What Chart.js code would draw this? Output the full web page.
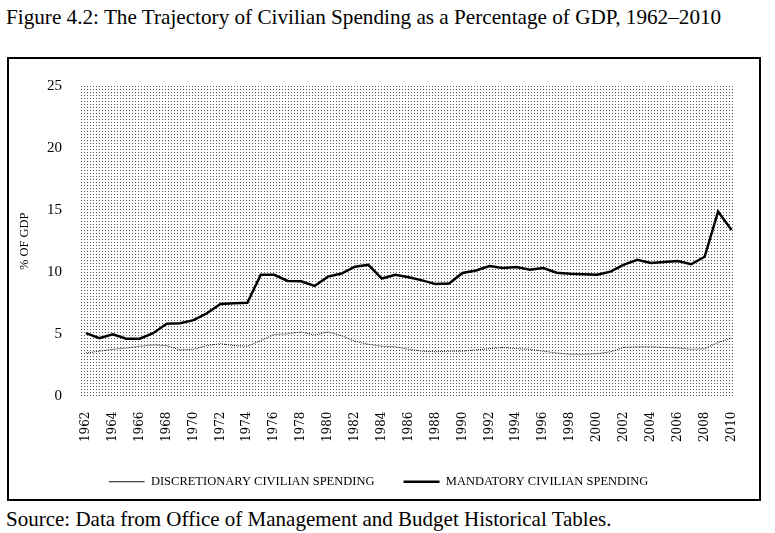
<!DOCTYPE html>
<html>
<head>
<meta charset="utf-8">
<script src="https://cdn.jsdelivr.net/npm/chart.js@4"></script>
<style>
  body { margin: 0; background: #fff; width: 775px; height: 533px; position: relative; overflow: hidden; }
  #titulo { position: absolute; left: 6px; top: 5px; font-family: "Liberation Serif", serif; font-size: 21.2px; color: #000; white-space: nowrap; }
  #marco { position: absolute; left: 7px; top: 57px; width: 754px; height: 444px; border: 2px solid #000; box-sizing: border-box; }
  #fuente { position: absolute; left: 6px; top: 507px; font-family: "Liberation Serif", serif; font-size: 21px; color: #000; white-space: nowrap; }
  #caja { position: absolute; left: 9px; top: 59px; width: 752px; height: 442px; }
</style>
</head>
<body>
<div id="titulo">Figure 4.2: The Trajectory of Civilian Spending as a Percentage of GDP, 1962–2010</div>
<div id="marco"></div>
<div id="caja"><canvas id="grafico"></canvas></div>
<div id="fuente">Source: Data from Office of Management and Budget Historical Tables.</div>
<script>
// DATOS
const anios = [1962, 1963, 1964, 1965, 1966, 1967, 1968, 1969, 1970, 1971, 1972, 1973, 1974, 1975, 1976, 1977,
  1978, 1979, 1980, 1981, 1982, 1983, 1984, 1985, 1986, 1987, 1988, 1989, 1990, 1991, 1992, 1993,
  1994, 1995, 1996, 1997, 1998, 1999, 2000, 2001, 2002, 2003, 2004, 2005, 2006, 2007, 2008, 2009, 2010];

const discrecional = [3.5, 3.65, 3.8, 3.9, 4.05, 4.15, 4.1, 3.75, 3.8, 4.1, 4.25, 4.1, 4.05, 4.5, 5.0, 5.05,
  5.2, 4.95, 5.2, 4.9, 4.45, 4.2, 4.05, 4.0, 3.8, 3.65, 3.6, 3.65, 3.65, 3.75, 3.85, 3.95,
  3.85, 3.8, 3.65, 3.5, 3.4, 3.4, 3.45, 3.6, 3.95, 4.0, 4.0, 3.95, 3.9, 3.8, 3.85, 4.35, 4.7];

const obligatorio = [5.1, 4.7, 5.0, 4.65, 4.65, 5.1, 5.85, 5.9, 6.15, 6.7, 7.45, 7.5, 7.55, 9.8, 9.8, 9.3,
  9.27, 8.9, 9.65, 9.9, 10.45, 10.6, 9.5, 9.8, 9.6, 9.35, 9.05, 9.1, 9.95, 10.15, 10.5, 10.35,
  10.42, 10.2, 10.35, 9.97, 9.88, 9.84, 9.8, 10.05, 10.62, 11.0, 10.75, 10.82, 10.9, 10.65, 11.25, 14.9, 13.4];

const etiquetasX = ["1962", "1964", "1966", "1968", "1970", "1972", "1974", "1976", "1978", "1980", "1982", "1984",
  "1986", "1988", "1990", "1992", "1994", "1996", "1998", "2000", "2002", "2004", "2006", "2008", "2010"];
const valoresX = etiquetasX.map(Number);

const etiquetasSeries = ["DISCRETIONARY CIVILIAN SPENDING", "MANDATORY CIVILIAN SPENDING"];

// fondo punteado del área del gráfico
function crearTrama() {
  const c = document.createElement("canvas");
  c.width = 3; c.height = 3;
  const g = c.getContext("2d");
  g.fillStyle = "#555";
  g.fillRect(0, 0, 1, 1);
  return c;
}

const fondoPunteado = {
  id: "fondoPunteado",
  beforeDatasetsDraw(chart) {
    const { ctx, chartArea } = chart;
    ctx.save();
    ctx.fillStyle = ctx.createPattern(crearTrama(), "repeat");
    ctx.fillRect(chartArea.left, chartArea.top, chartArea.right - chartArea.left, chartArea.bottom - chartArea.top);
    ctx.restore();
  }
};

const serif = "'Liberation Serif', serif";

new Chart(document.getElementById("grafico"), {
  type: "line",
  data: {
    datasets: [
      {
        label: etiquetasSeries[0],
        data: anios.map((a, i) => ({ x: a, y: discrecional[i] })),
        borderColor: "#111",
        borderWidth: 1,
        borderDash: [1, 1],
        pointRadius: 0,
        tension: 0
      },
      {
        label: etiquetasSeries[1],
        data: anios.map((a, i) => ({ x: a, y: obligatorio[i] })),
        borderColor: "#000",
        borderWidth: 2.5,
        pointRadius: 0,
        tension: 0
      }
    ]
  },
  options: {
    responsive: true,
    maintainAspectRatio: false,
    animation: false,
    layout: { padding: { left: 0, right: 13, top: 14, bottom: 3 } },
    plugins: {
      legend: {
        position: "bottom",
        labels: {
          usePointStyle: true,
          pointStyle: "line",
          pointStyleWidth: 36,
          padding: 29,
          color: "#000",
          font: { family: serif, size: 12.5 }
        }
      },
      tooltip: { enabled: false }
    },
    scales: {
      x: {
        type: "linear",
        min: 1961.56,
        max: 2010.22,
        afterBuildTicks(scale) {
          scale.ticks = valoresX.map(v => ({ value: v }));
        },
        afterFit(scale) { scale.height = 50; },
        grid: { display: false, drawTicks: false },
        border: { display: false },
        ticks: {
          autoSkip: false,
          minRotation: 90,
          maxRotation: 90,
          padding: 15,
          color: "#000",
          font: { family: "'DejaVu Serif', serif", size: 12 },
          callback: (v, i) => etiquetasX[i]
        }
      },
      y: {
        min: 0,
        max: 25,
        afterFit(scale) { scale.width = 71; },
        grid: { display: false, drawTicks: false },
        border: { display: false },
        ticks: {
          stepSize: 5,
          padding: 18,
          color: "#000",
          font: { family: serif, size: 15 }
        },
        title: {
          display: true,
          text: "% OF GDP",
          color: "#000",
          padding: { top: 8, bottom: 0 },
          font: { family: serif, size: 12.5 }
        }
      }
    }
  },
  plugins: [fondoPunteado]
});
</script>
</body>
</html>
